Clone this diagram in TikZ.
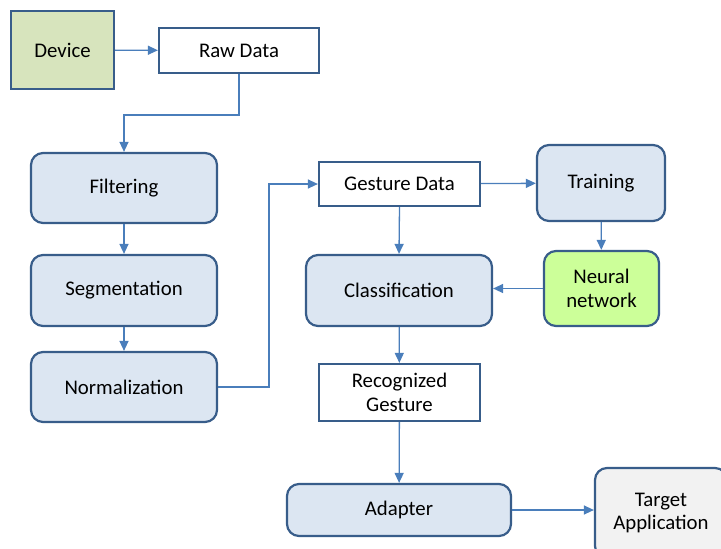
\documentclass[tikz,border=0pt]{standalone}
\usepackage{fontspec}
\setmainfont{Carlito}
\usepackage{tikz}
\usetikzlibrary{positioning}
\usetikzlibrary{arrows.meta}

\definecolor{boxline}{RGB}{56,93,138}
\definecolor{arrline}{RGB}{74,126,187}
\definecolor{boxfill}{RGB}{220,230,242}
\definecolor{devfill}{RGB}{215,228,189}
\definecolor{netfill}{RGB}{204,255,153}
\definecolor{appfill}{RGB}{242,242,242}

\begin{document}
\begin{tikzpicture}[x=1pt,y=-1pt,
        every node/.style={font=\fontsize{20.8}{23.5}\selectfont,align=center,inner sep=0pt},
        plain/.style={draw=boxline,line width=2.2pt,fill=white},
        stage/.style={plain,fill=boxfill,rounded corners=12pt},
        conn/.style={draw=arrline,line width=1.3pt,-{Triangle[length=10pt,width=9pt]}}]
    \useasboundingbox (0,0) rectangle (721,549);

    % input side
    \node[plain,fill=devfill,minimum width=103pt,minimum height=78pt] (device) at (62.5,50) {Device};
    \node[plain,minimum width=160pt,minimum height=45pt] (raw) at (239,50.5) {Raw Data};

    % preprocessing
    \node[stage,minimum width=186pt,minimum height=70pt] (filt) at (124,188) {Filtering};
    \node[stage,minimum width=186pt,minimum height=71pt] (segm) at (124,290.5) {Segmentation};
    \node[stage,minimum width=186pt,minimum height=70pt] (norm) at (124,387) {Normalization};

    % recognition
    \node[plain,minimum width=161pt,minimum height=44pt] (gest) at (399.5,184) {Gesture Data};
    \node[stage,minimum width=128pt,minimum height=76pt] (train) at (601,183) {Training};
    \node[stage,minimum width=186pt,minimum height=71pt] (class) at (399,290.5) {Classification};
    \node[stage,fill=netfill,minimum width=115pt,minimum height=75pt] (net) at (601.5,288.5) {Neural\\network};
    \node[plain,minimum width=161pt,minimum height=57pt] (recog) at (399.5,392.5) {Recognized\\Gesture};

    % output side
    \node[stage,minimum width=224pt,minimum height=52pt] (adapt) at (399,510) {Adapter};
    \node[stage,fill=appfill,minimum width=132pt,minimum height=90pt] (app) at (661,513) {Target\\Application};

    \draw[conn] (device) -- (raw);
    \draw[conn] (raw.south) -- ++(0,41) -| (filt.north);
    \draw[conn] (filt) -- (segm);
    \draw[conn] (segm) -- (norm);
    \draw[conn] (norm.east) -- ++(51,0) |- (gest.west);
    \draw[conn] (gest) -- (train);
    \draw[conn] (gest.south) -- (class.north);
    \draw[conn] (train) -- (net);
    \draw[conn] (net.west) -- (class.east |- net.west);
    \draw[conn] (class) -- (recog);
    \draw[conn] (recog) -- (adapt);
    \draw[conn] (adapt.east) -- (app.west |- adapt.east);
\end{tikzpicture}
\end{document}
